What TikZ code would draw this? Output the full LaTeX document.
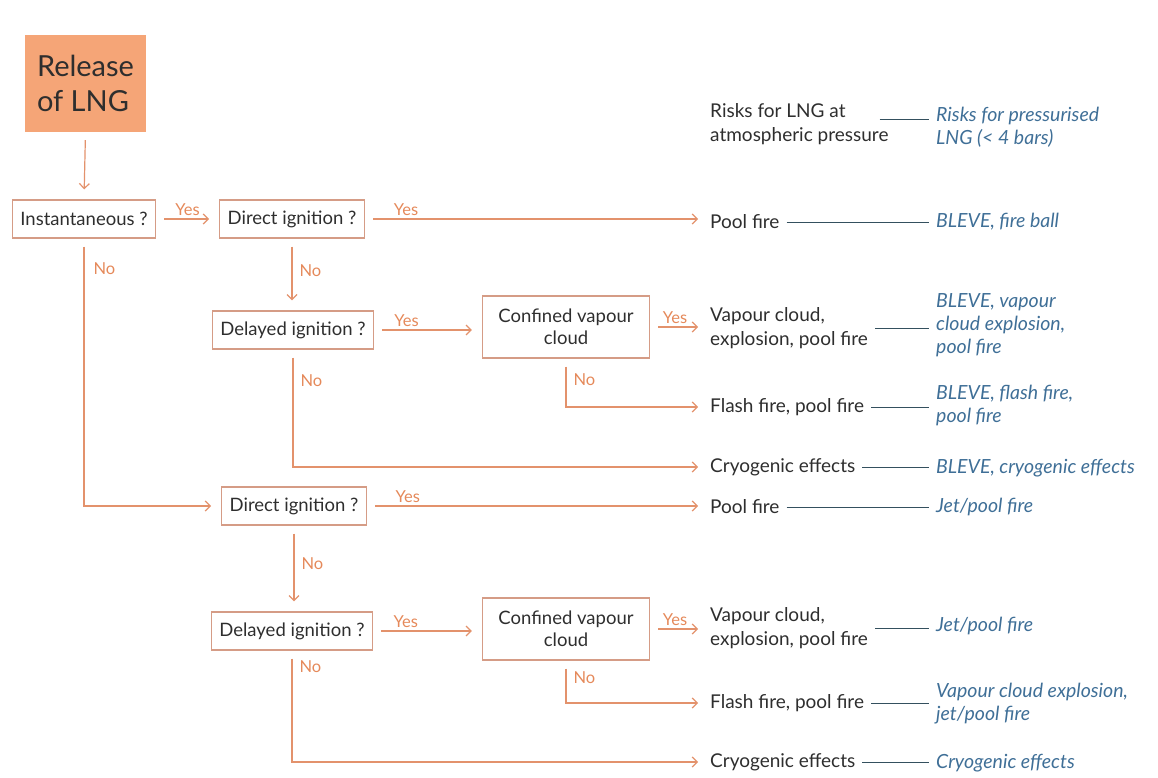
\documentclass[tikz,border=0pt]{standalone}
\usepackage{fontspec}
\setmainfont{Lato}
\usetikzlibrary{arrows.meta}

\definecolor{lngorange}{HTML}{F5A577}
\definecolor{flowline}{HTML}{E3926C}
\definecolor{boxline}{HTML}{D59C86}
\definecolor{answer}{HTML}{E5895A}
\definecolor{riskblue}{HTML}{3F6F97}
\definecolor{linkline}{HTML}{34505E}
\definecolor{bodytext}{HTML}{2E2E2E}

\tikzset{
  question/.style={draw=boxline, line width=1.3pt, text=bodytext, inner xsep=8pt,
    minimum height=38pt, font=\fontsize{18.5}{22}\selectfont},
  cloudbox/.style={question, align=center, minimum width=167pt, minimum height=62pt},
  outcome/.style={anchor=west, align=left, text=bodytext, inner sep=2pt,
    font=\fontsize{19}{24}\selectfont},
  risk/.style={anchor=west, align=left, text=riskblue, inner sep=2pt,
    font=\fontsize{19.5}{23}\selectfont\itshape},
  flow/.style={draw=flowline, line width=1.2pt, shorten <=8pt, shorten >=10pt,
    -{Straight Barb[length=5pt,width=10pt]}},
  answerlbl/.style={text=answer, inner sep=1pt, font=\fontsize{16.5}{18}\selectfont},
  link/.style={draw=linkline, line width=1pt, shorten <=5pt, shorten >=5pt},
}

\begin{document}
\begin{tikzpicture}[x=1pt,y=-1pt]
\useasboundingbox (0,0) rectangle (1158,778);

% start
\node[fill=lngorange, minimum width=121pt, minimum height=97pt, align=left,
  text=bodytext, font=\fontsize{29}{35}\selectfont] (rel) at (85.5,83.5) {Release\\of LNG};

% questions
\node[question] (inst) at (84,219) {Instantaneous ?};
\node[question] (di1) at (292,219) {Direct ignition ?};
\node[question] (de1) at (293,330) {Delayed ignition ?};
\node[cloudbox] (cv1) at (566,327) {Confined vapour\\cloud};
\node[question] (di2) at (294,506) {Direct ignition ?};
\node[question] (de2) at (292,631) {Delayed ignition ?};
\node[cloudbox] (cv2) at (566,629) {Confined vapour\\cloud};

% outcomes, atmospheric pressure
\node[outcome] (hdA) at (708,124) {Risks for LNG at\\atmospheric pressure};
\node[outcome] (pf1) at (708,222) {Pool fire};
\node[outcome] (vc1) at (708,328) {Vapour cloud,\\explosion, pool fire};
\node[outcome] (ff1) at (708,407) {Flash fire, pool fire};
\node[outcome] (cr1) at (708,467) {Cryogenic effects};
\node[outcome] (pf2) at (708,507) {Pool fire};
\node[outcome] (vc2) at (708,628) {Vapour cloud,\\explosion, pool fire};
\node[outcome] (ff2) at (708,703) {Flash fire, pool fire};
\node[outcome] (cr2) at (708,762) {Cryogenic effects};

% outcomes, pressurised
\node[risk] (hdB) at (934,127) {Risks for pressurised\\LNG (< 4 bars)};
\node[risk] (rp1) at (934,222) {BLEVE, fire ball};
\node[risk] (rv1) at (934,325) {BLEVE, vapour\\cloud explosion,\\pool fire};
\node[risk] (rf1) at (934,405) {BLEVE, flash fire,\\pool fire};
\node[risk] (rc1) at (934,468) {BLEVE, cryogenic effects};
\node[risk] (rp2) at (934,507) {Jet/pool fire};
\node[risk] (rv2) at (934,626) {Jet/pool fire};
\node[risk] (rf2) at (934,704) {Vapour cloud explosion,\\jet/pool fire};
\node[risk] (rc2) at (934,763) {Cryogenic effects};

% flow
\draw[flow] (rel.south) -- (inst.north);
\draw[flow] (inst.east) -- (di1.west) node[answerlbl, pos=0.5, above=2pt] (y1) {Yes};
\draw[flow] (inst.south) |- (di2.west) node[answerlbl, pos=0.056, anchor=west, xshift=8pt] (n1) {No};
\draw[flow] (di1.east) -- (di1.east -| pf1.west) node[answerlbl, pos=0.12, above=2pt] (y2) {Yes};
\draw[flow] (di1.south) -- (di1.south |- de1.north) node[answerlbl, pos=0.44, anchor=west, xshift=6pt] (n2) {No};
\draw[flow] (de1.east) -- (de1.east -| cv1.west) node[answerlbl, pos=0.3, above=2pt] (y3) {Yes};
\draw[flow] (de1.south) |- (cr1.west) node[answerlbl, pos=0.13, anchor=west, xshift=6pt] (n3) {No};
\draw[flow] (cv1.east) -- (cv1.east -| vc1.west) node[answerlbl, pos=0.43, above=2pt] (y4) {Yes};
\draw[flow] (cv1.south) |- (ff1.west) node[answerlbl, pos=0.22, anchor=west, xshift=6pt] (n4) {No};
\draw[flow] (di2.east) -- (di2.east -| pf2.west) node[answerlbl, pos=0.12, above=2pt] (y5) {Yes};
\draw[flow] (di2.south) -- (di2.south |- de2.north) node[answerlbl, pos=0.44, anchor=west, xshift=6pt] (n5) {No};
\draw[flow] (de2.east) -- (de2.east -| cv2.west) node[answerlbl, pos=0.3, above=2pt] (y6) {Yes};
\draw[flow] (de2.south) |- (cr2.west) node[answerlbl, pos=0.07, anchor=west, xshift=6pt] (n6) {No};
\draw[flow] (cv2.east) -- (cv2.east -| vc2.west) node[answerlbl, pos=0.43, above=2pt] (y7) {Yes};
\draw[flow] (cv2.south) |- (ff2.west) node[answerlbl, pos=0.2, anchor=west, xshift=6pt] (n7) {No};

% links
\coordinate (hl) at ([shift={(-16,-4)}]hdA.east);
\draw[link] (hl) -- (hl -| hdB.west);
\draw[link] (pf1.east) -- (pf1.east -| rp1.west);
\draw[link] (vc1.east) -- (vc1.east -| rv1.west);
\draw[link] (ff1.east) -- (ff1.east -| rf1.west);
\draw[link] (cr1.east) -- (cr1.east -| rc1.west);
\draw[link] (pf2.east) -- (pf2.east -| rp2.west);
\draw[link] (vc2.east) -- (vc2.east -| rv2.west);
\draw[link] (ff2.east) -- (ff2.east -| rf2.west);
\draw[link] (cr2.east) -- (cr2.east -| rc2.west);
\end{tikzpicture}
\end{document}
